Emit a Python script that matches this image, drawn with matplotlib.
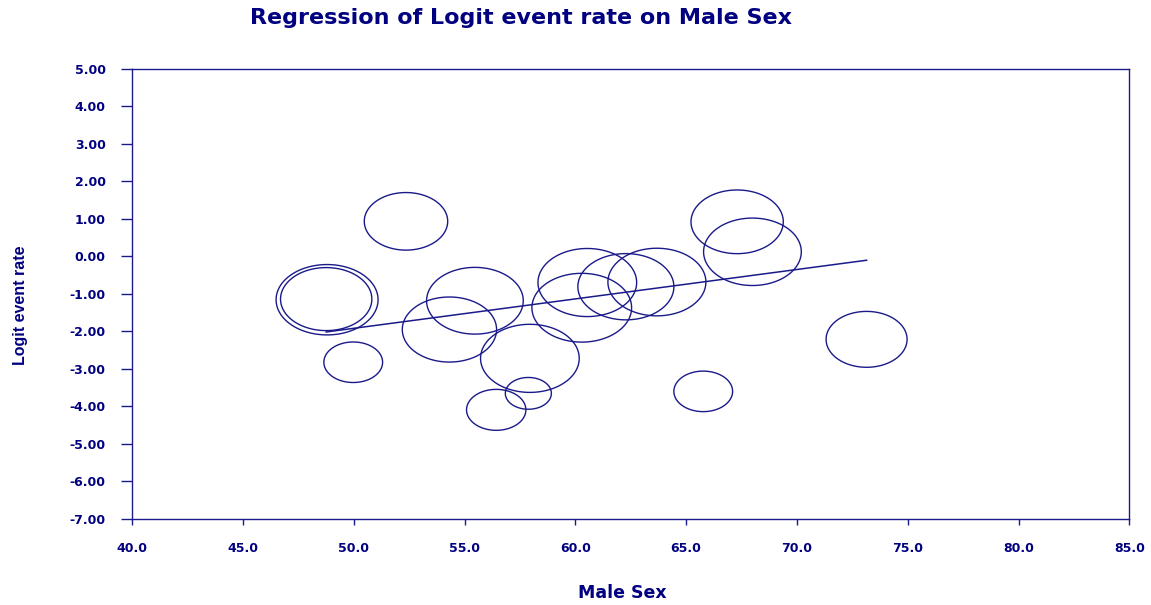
import matplotlib
matplotlib.use("Agg")
import matplotlib.pyplot as plt
import numpy as np
from matplotlib.path import Path
from matplotlib.ticker import FormatStrFormatter

# Study-level data: percentage male, logit event rate, relative weight
male_sex = [52.36, 48.80, 48.76, 49.98, 55.47, 54.32, 57.95, 57.88, 56.43,
            60.29, 60.54, 67.30, 67.99, 63.68, 62.28, 65.77, 73.14]
logit_rate = [0.935, -1.157, -1.14, -2.825, -1.184, -1.952, -2.721, -3.655, -4.095,
              -1.370, -0.698, 0.922, 0.122, -0.685, -0.810, -3.602, -2.214]
weights = [6.96, 10.40, 8.34, 3.45, 9.35, 8.89, 9.74, 2.12, 3.52,
           9.94, 9.74, 8.52, 9.55, 9.60, 9.22, 3.45, 6.56]

# Meta-regression line
intercept = -5.845
slope = 0.0785

x_ticks = [40, 45, 50, 55, 60, 65, 70, 75, 80, 85]
y_ticks = [-7, -6, -5, -4, -3, -2, -1, 0, 1, 2, 3, 4, 5]

navy = "#000080"
line_col = "#1a1a8a"

fig = plt.figure(figsize=(11.51, 6.05), dpi=100)
ax = fig.add_axes([0.1147, 0.1426, 0.8666, 0.7434])

# Ellipse-shaped bubble marker (wider than tall)
t = np.linspace(0, 2 * np.pi, 121)
ellipse = Path(np.column_stack([np.cos(t), 0.69 * np.sin(t)]), closed=True)

ax.scatter(male_sex, logit_rate, s=np.array(weights) * 518.4, marker=ellipse,
           facecolors="none", edgecolors=line_col, linewidths=1.0, zorder=3)

xs = np.array([min(male_sex), max(male_sex)])
ax.plot(xs, intercept + slope * xs, color=line_col, lw=1.1, zorder=4)

ax.set_xlim(40, 85)
ax.set_ylim(-7, 5)
ax.set_xticks(x_ticks)
ax.set_yticks(y_ticks)
ax.xaxis.set_major_formatter(FormatStrFormatter("%.1f"))
ax.yaxis.set_major_formatter(FormatStrFormatter("%.2f"))

for sp in ax.spines.values():
    sp.set_color(line_col)
    sp.set_linewidth(1.0)

ax.tick_params(axis="x", direction="out", length=4, width=1.0, color=line_col,
               pad=13, labelcolor=navy)
ax.tick_params(axis="y", direction="out", length=8, width=1.0, color=line_col,
               pad=11, labelcolor=navy)
for lab in ax.get_xticklabels() + ax.get_yticklabels():
    lab.set_fontfamily("DejaVu Sans")
    lab.set_fontweight("bold")
    lab.set_fontsize(9)

fig.text(0.4527, 0.971, "Regression of Logit event rate on Male Sex",
         ha="center", va="center", color=navy,
         family="DejaVu Sans", weight="bold", size=16)
fig.text(0.541, 0.020, "Male Sex", ha="center", va="center", color=navy,
         family="DejaVu Sans", weight="bold", size=12.5)
fig.text(0.018, 0.496, "Logit event rate", ha="center", va="center",
         rotation=90, color=navy,
         family=["Liberation Sans", "DejaVu Sans"], weight="bold", size=11.5)

fig.savefig("out.png", dpi=100)
